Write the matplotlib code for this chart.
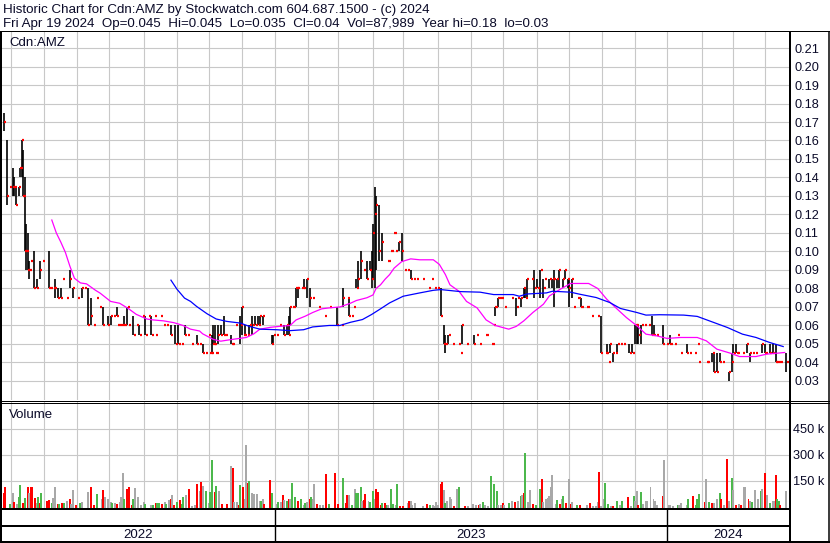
import matplotlib
matplotlib.use("Agg")
import matplotlib.pyplot as plt
import pandas as pd

plt.rcParams["font.family"] = ["Liberation Sans", "DejaVu Sans"]

# trading days shown on the chart (index into this range = bar position)
dates = pd.bdate_range("2022-04-25", "2024-04-19")

title_1 = "Historic Chart for Cdn:AMZ by Stockwatch.com 604.687.1500 - (c) 2024"
title_2 = ("Fri Apr 19 2024  Op=0.045  Hi=0.045  Lo=0.035  Cl=0.04  "
           "Vol=87,989  Year hi=0.18  lo=0.03")
symbol = "Cdn:AMZ"

# daily price bars (day index, high, low, close)
bar_day = [
    0, 2, 4, 6, 7, 8, 10, 11, 12, 13, 14, 15, 16, 17, 18, 20, 22, 24, 26, 30,
    31, 33, 34, 36, 38, 39, 42, 44, 46, 49, 52, 54, 56, 58, 60, 62, 64, 66, 69, 71,
    73, 75, 76, 78, 80, 82, 83, 86, 88, 90, 92, 94, 96, 98, 100, 101, 104, 106, 108, 111,
    114, 116, 118, 120, 122, 125, 128, 130, 132, 134, 136, 137, 138, 139, 140, 141, 142, 144, 146, 147,
    151, 152, 154, 157, 158, 159, 160, 162, 163, 165, 167, 169, 170, 172, 178, 179, 181, 183, 186, 188,
    189, 190, 192, 194, 195, 198, 199, 201, 203, 205, 209, 213, 216, 221, 224, 225, 228, 229, 231, 232,
    234, 235, 237, 239, 241, 243, 244, 245, 246, 247, 249, 251, 255, 257, 259, 260, 262, 264, 266, 268,
    270, 272, 274, 278, 282, 284, 286, 288, 290, 292, 293, 295, 298, 302, 303, 304, 307, 312, 314, 316,
    320, 324, 325, 326, 328, 330, 332, 337, 340, 341, 343, 345, 346, 347, 350, 352, 354, 356, 358, 359,
    362, 364, 365, 367, 368, 371, 372, 374, 375, 377, 378, 381, 383, 387, 390, 394, 396, 399, 400, 401,
    402, 404, 406, 407, 409, 411, 415, 417, 419, 420, 421, 423, 425, 428, 430, 431, 433, 437, 440, 442,
    445, 447, 449, 453, 455, 458, 460, 461, 466, 467, 470, 471, 473, 475, 477, 481, 483, 484, 486, 487,
    490, 493, 495, 497, 499, 503, 505, 508, 510, 512, 513, 515, 519,
]
bar_high = [
    .175, .16, .135, .145, .14, .135, .135, .145, .16, .155, .14, .115, .11, .095, .095, .10, .085, .095, .095, .10,
    .08, .08, .085, .08, .08, .085, .075, .09, .08, .075, .08, .08, .08, .075, .06, .075, .07, .07, .065, .065,
    .065, .07, .06, .06, .065, .07, .06, .065, .06, .06, .065, .065, .065, .065, .065, .055, .065, .06, .06, .06,
    .06, .06, .05, .06, .055, .05, .055, .05, .05, .045, .055, .045, .055, .06, .06, .045, .06, .06, .065, .055,
    .055, .05, .06, .065, .07, .055, .06, .055, .06, .065, .065, .065, .065, .065, .055, .055, .055, .06, .06, .06,
    .065, .07, .07, .08, .08, .08, .085, .085, .08, .075, .07, .065, .07, .07, .06, .08, .075, .075, .065, .07,
    .085, .095, .10, .09, .095, .095, .10, .115, .135, .13, .125, .11, .095, .10, .11, .10, .105, .11, .09, .09,
    .09, .085, .085, .085, .08, .085, .08, .08, .08, .06, .055, .055, .05, .05, .045, .06, .05, .055, .055, .05,
    .055, .05, .06, .07, .075, .075, .07, .075, .075, .075, .075, .08, .08, .085, .085, .09, .085, .09, .085, .085,
    .085, .085, .09, .085, .09, .085, .09, .085, .085, .085, .07, .075, .075, .07, .065, .065, .065, .045, .05, .04,
    .05, .045, .045, .05, .05, .05, .05, .05, .06, .06, .06, .06, .06, .06, .065, .06, .055, .06, .05, .055,
    .05, .055, .045, .05, .045, .045, .05, .04, .04, .04, .045, .045, .045, .045, .04, .035, .045, .05, .05, .045,
    .045, .05, .045, .045, .045, .05, .05, .05, .05, .05, .04, .04, .045,
]
bar_low = [
    .165, .125, .135, .13, .13, .125, .13, .14, .14, .13, .10, .09, .09, .085, .095, .08, .08, .085, .095, .08,
    .08, .08, .075, .075, .075, .085, .075, .08, .075, .075, .075, .08, .06, .06, .06, .075, .07, .06, .06, .06,
    .065, .065, .06, .06, .06, .06, .06, .055, .06, .055, .065, .055, .065, .055, .065, .055, .065, .06, .06, .055,
    .05, .05, .05, .055, .055, .05, .05, .05, .045, .045, .055, .045, .045, .05, .05, .045, .05, .055, .055, .055,
    .05, .05, .06, .05, .055, .055, .055, .055, .055, .055, .06, .06, .06, .06, .05, .05, .055, .06, .055, .055,
    .055, .06, .07, .07, .075, .08, .08, .075, .07, .075, .07, .065, .07, .06, .06, .07, .075, .065, .065, .07,
    .08, .08, .085, .09, .085, .09, .08, .085, .08, .09, .095, .095, .095, .10, .11, .10, .10, .095, .09, .09,
    .085, .085, .085, .085, .08, .085, .08, .08, .065, .05, .045, .05, .05, .05, .045, .05, .05, .05, .055, .05,
    .055, .05, .06, .065, .07, .075, .07, .075, .065, .075, .07, .075, .075, .075, .085, .075, .08, .075, .075, .085,
    .08, .08, .07, .08, .08, .08, .085, .08, .07, .075, .07, .075, .07, .07, .065, .065, .045, .045, .045, .04,
    .045, .04, .045, .045, .05, .05, .045, .045, .05, .05, .05, .05, .06, .06, .055, .055, .055, .05, .05, .05,
    .05, .055, .045, .045, .045, .045, .05, .04, .04, .04, .04, .035, .035, .04, .04, .03, .035, .045, .045, .045,
    .045, .045, .04, .045, .045, .045, .045, .045, .045, .04, .04, .04, .035,
]
bar_close = [
    .17, .13, .135, .135, .135, .125, .135, .145, .16, .13, .10, .10, .09, .09, .095, .08, .08, .09, .095, .08,
    .08, .08, .08, .075, .075, .085, .075, .085, .08, .075, .08, .08, .06, .065, .06, .075, .07, .06, .06, .065,
    .065, .065, .06, .06, .06, .07, .06, .055, .06, .055, .065, .055, .065, .055, .065, .055, .065, .06, .06, .055,
    .05, .05, .05, .055, .055, .05, .05, .05, .045, .045, .055, .045, .045, .05, .05, .045, .055, .055, .055, .055,
    .05, .05, .06, .06, .07, .055, .055, .055, .06, .06, .06, .06, .065, .065, .05, .055, .055, .06, .055, .06,
    .055, .07, .07, .08, .08, .08, .08, .085, .075, .075, .07, .065, .07, .06, .06, .075, .075, .065, .065, .07,
    .08, .085, .095, .09, .085, .09, .085, .11, .12, .125, .10, .105, .095, .10, .11, .10, .105, .10, .09, .09,
    .085, .085, .085, .085, .08, .085, .08, .08, .065, .05, .05, .055, .05, .05, .045, .06, .05, .05, .055, .05,
    .055, .05, .06, .07, .075, .075, .07, .075, .07, .075, .075, .08, .075, .085, .085, .08, .08, .09, .08, .085,
    .085, .085, .085, .085, .09, .085, .09, .085, .08, .085, .07, .075, .07, .07, .065, .065, .045, .045, .045, .04,
    .05, .045, .045, .05, .05, .05, .045, .045, .06, .06, .055, .06, .06, .06, .055, .055, .055, .05, .05, .05,
    .05, .055, .045, .045, .045, .045, .05, .04, .04, .04, .045, .035, .035, .04, .04, .035, .04, .045, .045, .045,
    .045, .05, .045, .045, .045, .05, .045, .045, .045, .04, .04, .04, .04,
]

# moving averages as drawn (day index, value)
ma_short_day = [32, 35, 38, 41, 44, 47, 51, 55, 61, 64, 71, 77, 83, 88, 95, 99, 106, 113, 119, 124,
                130, 132, 139, 144, 152, 161, 166, 170, 177, 183, 190, 194, 200, 205, 211, 216, 223, 230, 234, 241,
                245, 247, 250, 253, 256, 259, 264, 270, 276, 285, 289, 293, 296, 302, 307, 314, 320, 326, 335, 340,
                345, 351, 358, 362, 369, 376, 388, 394, 400, 407, 413, 420, 426, 433, 440, 449, 460, 466, 473, 482,
                488, 499, 506, 513, 518]
ma_short = [.117, .110, .105, .0995, .092, .0855, .083, .0825, .079, .0775, .073, .072, .069, .066, .0635, .063, .0625, .0615, .060, .058,
            .057, .0555, .0525, .0515, .0525, .0535, .0555, .058, .059, .0595, .060, .063, .065, .067, .069, .0695, .070, .072, .0735, .075,
            .0765, .080, .082, .085, .0875, .091, .0945, .096, .0955, .0955, .093, .0875, .082, .0785, .073, .0695, .063, .060, .058, .0595,
            .0625, .067, .0715, .076, .0795, .0827, .0827, .080, .0742, .0688, .0643, .0598, .0553, .0544, .053, .0535, .0535, .0517, .0472, .045,
            .0432, .0432, .0445, .045, .0454]
ma_long_day = [111, 115, 120, 124, 128, 135, 141, 148, 157, 163, 170, 181, 190, 199, 205, 216, 223, 230, 238, 244,
               250, 256, 265, 276, 285, 290, 303, 316, 325, 338, 342, 347, 360, 364, 376, 382, 393, 402, 409, 420,
               426, 435, 451, 460, 468, 480, 490, 499, 508, 517]
ma_long = [.0845, .0796, .0748, .073, .0703, .0663, .0635, .0622, .0613, .0595, .058, .0577, .0572, .0577, .0592, .060, .060, .0617, .0632, .0659,
           .069, .0722, .0758, .0776, .079, .0794, .0783, .078, .0767, .0767, .0758, .077, .0776, .0785, .078, .0769, .0751, .0724, .0692, .067,
           .0656, .0658, .0656, .0649, .0625, .0589, .0553, .0535, .0508, .0486]

# daily volume in thousands, with direction (r = down, g = up, n = unchanged)
vol_day = [
    0, 1, 4, 6, 7, 9, 10, 11, 13, 14, 16, 17, 18, 19, 21, 22, 23, 24, 25, 29,
    30, 32, 33, 34, 36, 37, 39, 40, 42, 44, 45, 46, 48, 51, 52, 56, 58, 60, 62, 65,
    66, 67, 69, 71, 72, 74, 75, 77, 78, 79, 80, 82, 83, 85, 86, 87, 89, 91, 93, 94,
    98, 99, 101, 102, 103, 105, 107, 108, 110, 111, 112, 113, 115, 117, 118, 119, 121, 123, 125, 127,
    128, 130, 131, 132, 134, 136, 137, 138, 140, 141, 143, 145, 148, 151, 152, 153, 155, 156, 157, 159,
    160, 161, 162, 163, 165, 166, 168, 170, 171, 172, 173, 177, 178, 181, 182, 184, 185, 186, 188, 189,
    190, 191, 193, 195, 197, 199, 200, 201, 203, 204, 205, 206, 208, 210, 212, 214, 216, 220, 222, 225,
    227, 228, 229, 231, 233, 234, 235, 237, 238, 239, 240, 242, 243, 245, 246, 247, 248, 250, 251, 253,
    254, 255, 257, 258, 260, 261, 263, 265, 268, 269, 270, 271, 273, 278, 281, 283, 285, 286, 287, 288,
    290, 291, 292, 293, 294, 296, 297, 299, 301, 302, 306, 308, 311, 313, 315, 316, 318, 319, 321, 323,
    325, 327, 328, 330, 331, 332, 335, 337, 339, 341, 343, 344, 345, 346, 348, 349, 351, 353, 356, 357,
    358, 360, 361, 362, 363, 364, 366, 367, 369, 370, 371, 373, 375, 376, 377, 380, 382, 387, 389, 391,
    393, 394, 395, 396, 398, 399, 401, 403, 404, 407, 409, 410, 414, 416, 418, 419, 420, 421, 423, 424,
    426, 427, 429, 431, 432, 433, 437, 438, 441, 442, 444, 447, 448, 449, 453, 454, 457, 459, 460, 461,
    465, 466, 468, 470, 471, 473, 475, 476, 478, 480, 481, 483, 484, 486, 488, 489, 491, 492, 494, 495,
    496, 498, 500, 502, 503, 505, 506, 508, 510, 511, 512, 513, 514, 515, 519,
]
vol_k = [
    80, 115, 13, 77, 29, 13, 58, 123, 19, 52, 111, 77, 111, 111, 48, 19, 58, 19, 77, 35,
    38, 19, 48, 115, 13, 13, 19, 19, 35, 46, 13, 98, 8, 19, 25, 83, 111, 8, 71, 42,
    94, 58, 46, 27, 19, 19, 13, 25, 54, 192, 42, 104, 111, 8, 42, 106, 54, 8, 29, 13,
    8, 8, 19, 19, 19, 13, 29, 12, 38, 42, 65, 8, 29, 36, 15, 58, 65, 100, 6, 8,
    131, 92, 140, 119, 92, 23, 85, 267, 83, 117, 92, 13, 13, 235, 221, 25, 25, 8, 123, 111,
    42, 356, 138, 146, 77, 73, 73, 35, 35, 42, 13, 152, 77, 15, 29, 29, 65, 38, 35, 46,
    42, 135, 54, 31, 42, 10, 19, 27, 46, 54, 42, 131, 13, 8, 8, 187, 13, 192, 13, 162,
    19, 69, 69, 8, 100, 77, 77, 111, 35, 36, 71, 35, 29, 90, 42, 100, 85, 8, 19, 19,
    8, 8, 100, 13, 8, 129, 4, 4, 19, 31, 31, 8, 19, 4, 13, 8, 8, 4, 25, 8,
    129, 144, 94, 19, 35, 54, 46, 4, 100, 111, 4, 4, 13, 8, 8, 13, 25, 8, 4, 175,
    129, 88, 8, 8, 19, 8, 19, 35, 27, 31, 60, 67, 77, 308, 27, 96, 13, 10, 100, 158,
    29, 42, 48, 62, 115, 181, 15, 36, 12, 46, 60, 19, 158, 15, 27, 8, 8, 8, 19, 4,
    4, 27, 198, 4, 42, 135, 13, 4, 4, 35, 8, 31, 54, 4, 60, 31, 88, 8, 83, 13,
    31, 31, 111, 46, 31, 8, 60, 267, 8, 8, 4, 8, 8, 19, 8, 46, 60, 8, 46, 71,
    27, 158, 27, 19, 19, 42, 79, 42, 8, 273, 31, 162, 94, 8, 13, 8, 111, 111, 42, 31,
    25, 98, 46, 88, 100, 192, 65, 19, 31, 31, 181, 46, 31, 8, 88,
]
vol_dir = ("rrgnrnggrgrnrrrngrgr" "rgnnrgrgnrnnrgnnrrgn" "rnnngnrnnngrrrgnnnng"
           "ngrggrngnrnrgrggnrnn" "rnrngnggrgnrrnrnnrgr" "nnrgnnnngnrrgngnrngr"
           "nggrgngnrgnnrnnrgrrg" "rrngngggnrrnggnrrrgr" "gnggngrrnrnnnnrgnnnn"
           "rrngnnnrngrnnnrngnng" "ggnnrngnrngnrgnnrggr" "nnnnnnngrngrnrngrnrn"
           "nnrnnggnrgngrngnnrgn" "nnnnnnrnnnngnnngrggg" "rngrnngrnrngnrnrnnrn"
           "gnngnrngnnrggrn")

price_ticks = [0.03, 0.04, 0.05, 0.06, 0.07, 0.08, 0.09, 0.10, 0.11, 0.12,
               0.13, 0.14, 0.15, 0.16, 0.17, 0.18, 0.19, 0.20, 0.21]
vol_ticks = [150, 300, 450]

assert len(bar_day) == len(bar_high) == len(bar_low) == len(bar_close)
assert len(vol_day) == len(vol_k) == len(vol_dir)

TXT = "#0a0a28"
GRID = "#c8c8c8"
dir_color = {"r": "#ff0000", "g": "#4cb84c", "n": "#a8a8a8"}

W, H = 830, 543
fig = plt.figure(figsize=(W / 100, H / 100), dpi=100)


def box(left, top, right, bottom):
    return fig.add_axes([left / W, 1 - bottom / H, (right - left) / W, (bottom - top) / H])


ax = box(2, 31, 789, 400)
axv = box(2, 402, 789, 509)
axd = box(2, 509, 789, 541)

x_lo, x_hi = -1.03, 520.85
month_starts = [i for i in range(1, len(dates)) if dates[i].month != dates[i - 1].month]
year_starts = [i for i in range(1, len(dates)) if dates[i].year != dates[i - 1].year]

for a in (ax, axv, axd):
    a.set_xlim(x_lo, x_hi)
    a.set_xticks([])
    for s in a.spines.values():
        s.set_visible(False)
    a.patch.set_alpha(0)

for a in (ax, axv):
    for m in month_starts:
        a.axvline(m, color=GRID, lw=0.8, zorder=0)

# price panel
ax.set_ylim(0.0197, 0.2192)
for t in price_ticks:
    ax.axhline(t, color=GRID, lw=0.8, zorder=0)
ax.yaxis.tick_right()
ax.set_yticks(price_ticks, [f"{t:.2f}" for t in price_ticks])
ax.tick_params(axis="y", length=0, pad=4, labelsize=9.2, labelcolor=TXT)

ax.vlines(bar_day, bar_low, bar_high, color="black", lw=1.2, zorder=3)
ax.hlines(bar_close, [d + 0.2 for d in bar_day], [d + 1.6 for d in bar_day],
          color="#ff0000", lw=1.6, zorder=4)
ax.plot(ma_short_day, ma_short, color="#ff00ff", lw=0.9, zorder=5)
ax.plot(ma_long_day, ma_long, color="#0000ff", lw=0.9, zorder=5)
ax.text(7 / 787, 1 - 15 / 369, symbol, transform=ax.transAxes, fontsize=9.5,
        color=TXT, va="baseline")

# volume panel
v_lo, v_hi = -14, 603
axv.set_ylim(v_lo, v_hi)
for t in vol_ticks:
    axv.axhline(t, color=GRID, lw=0.8, zorder=0)
axv.yaxis.tick_right()
axv.set_yticks(vol_ticks, [f"{t} k" for t in vol_ticks])
axv.tick_params(axis="y", length=0, pad=3, labelsize=9.2, labelcolor=TXT)
axv.bar(vol_day, [v - v_lo for v in vol_k], bottom=v_lo, width=1.3,
        color=[dir_color[c] for c in vol_dir], lw=0, zorder=3)
axv.text(7 / 787, 1 - 16 / 107, "Volume", transform=axv.transAxes, fontsize=9.5,
         color=TXT, va="baseline")

# date panel
axd.set_ylim(0, 1)
axd.set_yticks([])
edges = [x_lo] + year_starts + [x_hi]
for s in year_starts:
    axd.axvline(s, color="black", lw=1.0)
for a, b in zip(edges[:-1], edges[1:]):
    yr = dates[min(max(int(a), 0), len(dates) - 1)].year
    axd.text((a + b) / 2, 0.2, str(yr), ha="center", va="center", fontsize=9.5, color=TXT)

# frame lines and header, in pixel coordinates
ov = fig.add_axes([0, 0, 1, 1], zorder=10)
ov.set_xlim(0, W)
ov.set_ylim(H, 0)
ov.axis("off")
frame = [
    (0, 31, W, 31, 1), (1, 31, 1, 542, 2), (789.5, 31, 789.5, 542, 2),
    (829, 31, 829, 542, 1.5), (0, 400.5, W, 400.5, 1), (0, 403, W, 403, 1),
    (0, 509, 790, 509, 2), (0, 526, 790, 526, 2), (0, 541.5, W, 541.5, 2),
]
for x0, y0, x1, y1, w in frame:
    ov.plot([x0, x1], [y0, y1], color="black", lw=w * 0.72, solid_capstyle="butt")
ov.text(3, 12.5, title_1, fontsize=9.67, color=TXT, va="baseline")
ov.text(3, 27, title_2, fontsize=9.67, color=TXT, va="baseline")

fig.savefig("out.png", dpi=100)
